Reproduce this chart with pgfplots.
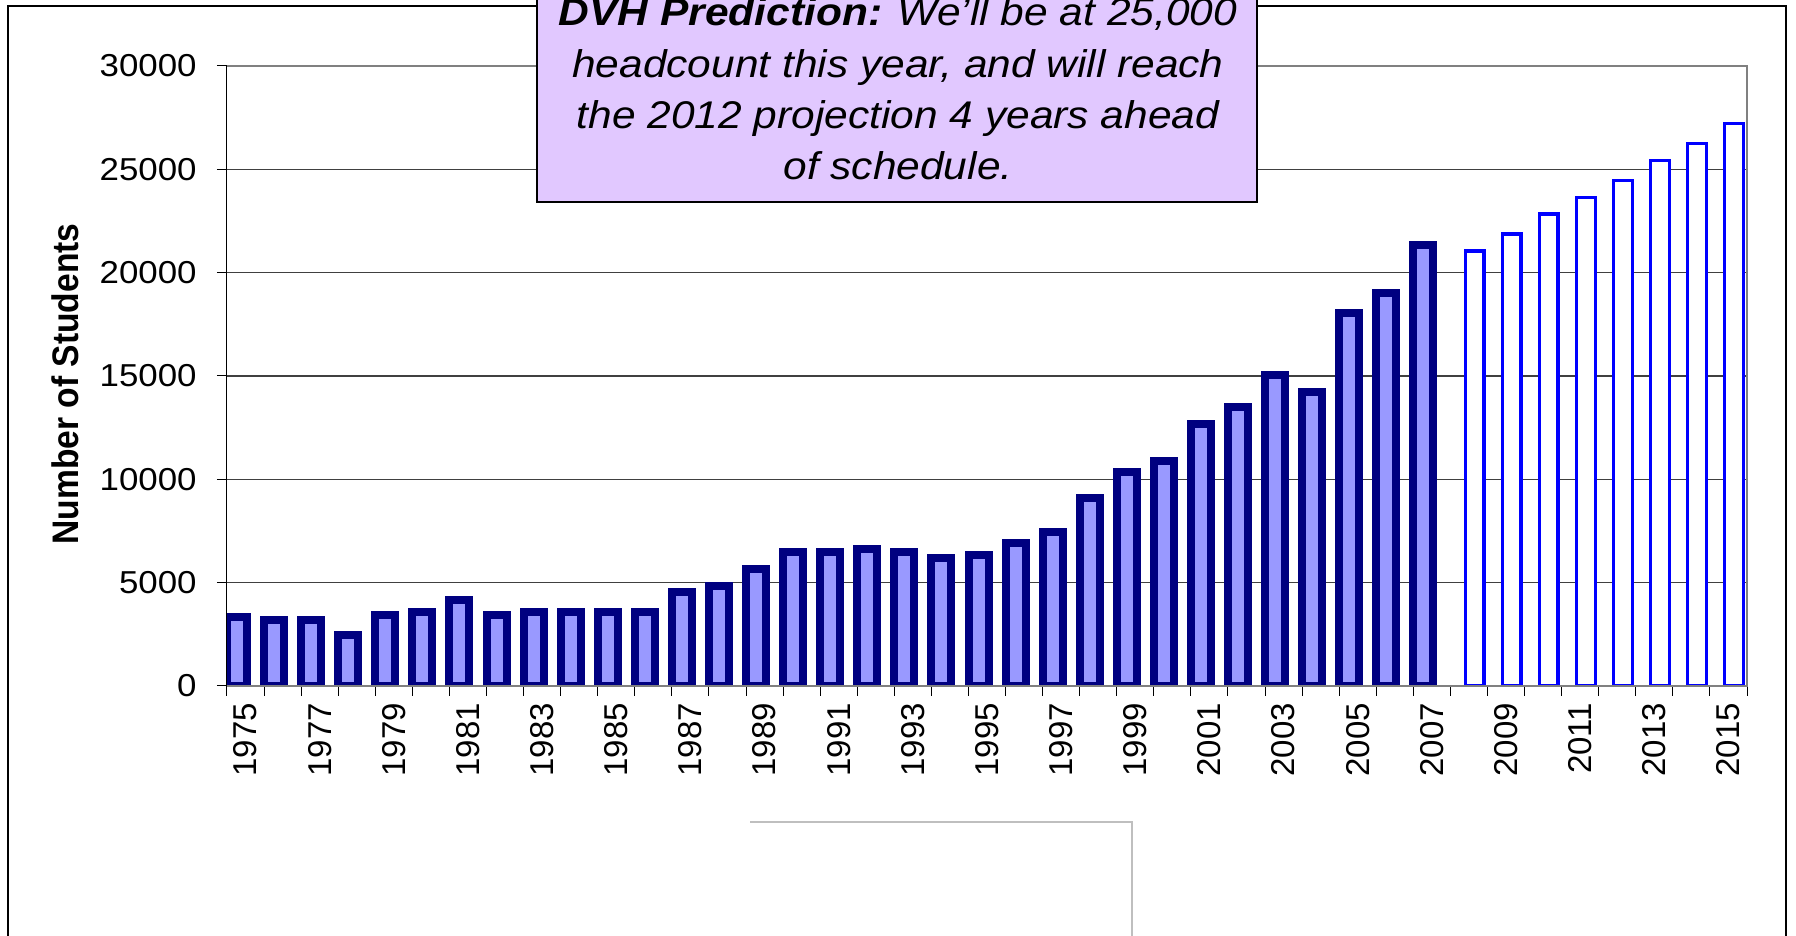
\documentclass[border=0pt]{standalone}
\usepackage{pgfplots}
\pgfplotsset{compat=1.18}
\usepackage{fontspec}
\setmainfont{Liberation Sans}
\definecolor{navybar}{RGB}{0,0,128}
\definecolor{lightbar}{RGB}{153,153,255}
\definecolor{projblue}{RGB}{0,0,255}
\definecolor{boxfill}{RGB}{225,200,255}
\begin{document}
\begin{tikzpicture}
\path[use as bounding box] (0,0) rectangle (898pt,468pt);
\clip (0,0) rectangle (898pt,468pt);
\fill[white] (0,0) rectangle (898pt,468pt);
\draw[black, line width=0.6pt] (4pt,-10pt) rectangle (893pt,465pt);
\draw[black!25, line width=0.6pt] (375pt,57pt) -- (566pt,57pt) -- (566pt,-10pt);
\begin{axis}[
  at={(113.5pt,125pt)}, anchor=south west,
  width=760pt, height=310pt, scale only axis,
  xmin=-0.5, xmax=40.5, ymin=0, ymax=30000,
  clip mode=individual,
  axis line style={draw=none},
  ytick={0,5000,...,30000},
  yticklabel={\scalebox{1.1}[1]{\pgfmathprintnumber{\tick}}},
  xtick={0,2,...,40},
  xticklabels={1975,1977,1979,1981,1983,1985,1987,1989,1991,1993,1995,1997,1999,2001,2003,2005,2007,2009,2011,2013,2015},
  minor xtick={-0.5,0.5,...,40.5},
  every major x tick/.style={draw=none},
  tick align=outside,
  major tick length=5pt, minor tick length=5pt,
  xtick pos=left, ytick pos=left,
  tick style={black, line width=0.5pt},
  ymajorgrids, grid style={black!75, line width=0.6pt},
  /pgf/number format/1000 sep={},
  scaled y ticks=false,
  /pgf/number format/assume math mode=true,
  yticklabel style={font=\fontsize{15.85}{19}\selectfont, inner sep=0pt, anchor=east},
  yticklabel shift=10pt,
  xticklabel style={font=\fontsize{16.5}{19}\selectfont, rotate=90, anchor=east, inner sep=0pt},
  xticklabel shift=3.3pt,
  ylabel={\scalebox{1}[1.1]{Number of Students}},
  ylabel style={font=\fontsize{16.8}{20}\selectfont\bfseries, at={(axis description cs:-0.1066,0.487)}, anchor=center},
]
\addplot[ybar, bar width=10pt, bar shift=-4.25pt, draw=navybar, fill=lightbar, line width=4pt] coordinates {
(0,3320) (1,3190) (2,3190) (3,2490) (4,3450) (5,3590) (6,4160) (7,3450) (8,3590) (9,3590)
(10,3590) (11,3590) (12,4560) (13,4840) (14,5660) (15,6490) (16,6490) (17,6630) (18,6490) (19,6210)
(20,6360) (21,6910) (22,7460) (23,9110) (24,10340) (25,10910) (26,12700) (27,13510) (28,15030) (29,14210)
(30,18050) (31,19020) (32,21350)};
\addplot[ybar, bar width=9.35pt, bar shift=2.8pt, draw=projblue, fill=white, line width=1.6pt] coordinates {
(33,21050) (34,21870) (35,22840) (36,23640) (37,24450) (38,25410) (39,26240) (40,27200)};
\draw[black!50, line width=1pt] (rel axis cs:0,0) -- (rel axis cs:1,0) -- (rel axis cs:1,1) -- (rel axis cs:0,1);
\draw[black, line width=0.5pt] (rel axis cs:0,0) -- (rel axis cs:0,1);
\end{axis}
\draw[black, line width=1pt, fill=boxfill] (268.7pt,366.8pt) rectangle (628.4pt,480pt);
\begin{scope}[every node/.style={anchor=base, font=\fontsize{19.3}{23}\selectfont\itshape, inner sep=0pt}]
\node at (449pt,455pt) {\scalebox{1.1}[1]{\textbf{DVH Prediction:} We’ll be at 25,000}};
\node at (449pt,429.35pt) {\scalebox{1.1}[1]{headcount this year, and will reach}};
\node at (449pt,403.85pt) {\scalebox{1.1}[1]{the 2012 projection 4 years ahead}};
\node at (449pt,378.35pt) {\scalebox{1.1}[1]{of schedule.}};
\end{scope}
\end{tikzpicture}
\end{document}
